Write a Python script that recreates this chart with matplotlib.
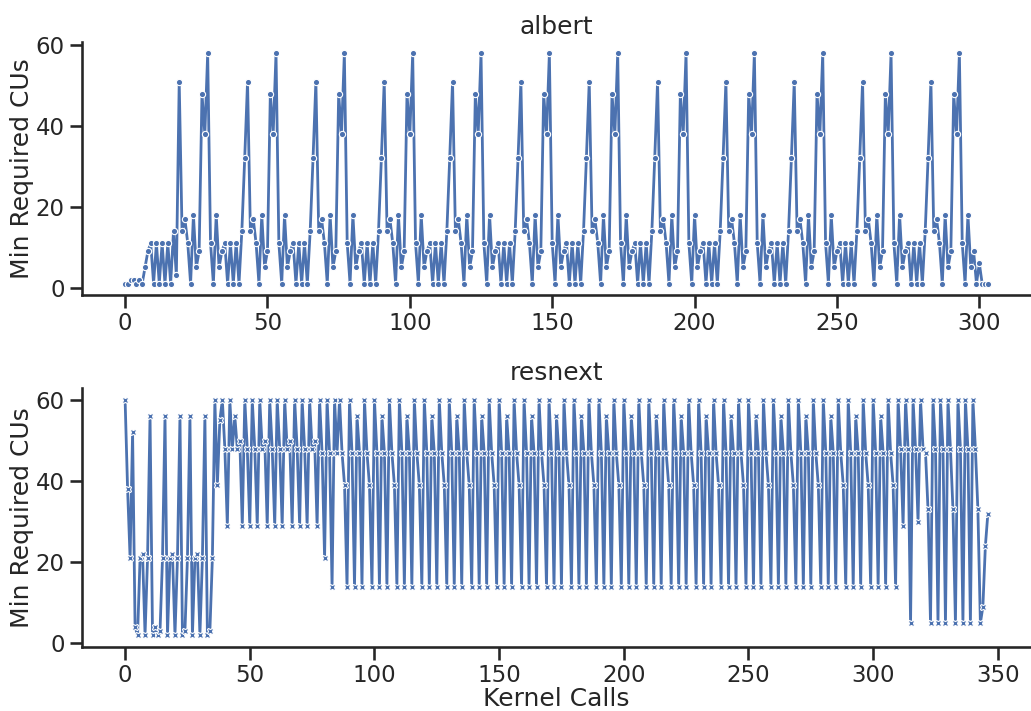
import numpy as np
import matplotlib
matplotlib.use("Agg")
import matplotlib.pyplot as plt
import seaborn as sns


# min CUs needed per kernel call, one row per repeating layer block
albert_cus = [
    1, 1, 2, 2, 1, 2, 1, 5, 9, 11, 1, 11, 1, 11, 1, 11, 1, 14, 3,
    51, 14, 17, 11, 1, 18, 5, 9, 48, 38, 58, 11, 1, 18, 5, 9, 11, 1, 11, 1, 11, 1, 14, 32,
    51, 14, 17, 11, 1, 18, 5, 9, 48, 38, 58, 11, 1, 18, 5, 9, 11, 1, 11, 1, 11, 1, 14, 32,
    51, 14, 17, 11, 1, 18, 5, 9, 48, 38, 58, 11, 1, 18, 5, 9, 11, 1, 11, 1, 11, 1, 14, 32,
    51, 14, 17, 11, 1, 18, 5, 9, 48, 38, 58, 11, 1, 18, 5, 9, 11, 1, 11, 1, 11, 1, 14, 32,
    51, 14, 17, 11, 1, 18, 5, 9, 48, 38, 58, 11, 1, 18, 5, 9, 11, 1, 11, 1, 11, 1, 14, 32,
    51, 14, 17, 11, 1, 18, 5, 9, 48, 38, 58, 11, 1, 18, 5, 9, 11, 1, 11, 1, 11, 1, 14, 32,
    51, 14, 17, 11, 1, 18, 5, 9, 48, 38, 58, 11, 1, 18, 5, 9, 11, 1, 11, 1, 11, 1, 14, 32,
    51, 14, 17, 11, 1, 18, 5, 9, 48, 38, 58, 11, 1, 18, 5, 9, 11, 1, 11, 1, 11, 1, 14, 32,
    51, 14, 17, 11, 1, 18, 5, 9, 48, 38, 58, 11, 1, 18, 5, 9, 11, 1, 11, 1, 11, 1, 14, 32,
    51, 14, 17, 11, 1, 18, 5, 9, 48, 38, 58, 11, 1, 18, 5, 9, 11, 1, 11, 1, 11, 1, 14, 32,
    51, 14, 17, 11, 1, 18, 5, 9, 48, 38, 58, 11, 1, 18, 5, 9, 11, 1, 11, 1, 11, 1, 14, 32,
    51, 14, 17, 11, 1, 18, 5, 9, 48, 38, 58, 11, 1, 18, 5, 9, 1, 6, 1, 1, 1,
]

resnext_cus = [
    60, 38, 21, 52, 4, 2, 21, 22, 2, 21,
    56, 2, 4, 2, 3, 21, 56, 2, 21, 22,
    2, 21, 56, 2, 3, 21, 56, 2, 21, 22,
    2, 21, 56, 2, 3, 21, 60, 39, 55, 60,
    48, 29, 60, 48, 56, 48, 50, 29, 60, 48,
    29, 60, 48, 29, 60, 48, 50, 29, 60, 48,
    29, 60, 48, 29, 60, 48, 50, 29, 60, 48,
    29, 60, 48, 29, 60, 48, 50, 29, 60, 47,
    21, 60, 47, 14, 60, 47, 60, 47, 39, 14,
    60, 47, 14, 56, 47, 14, 60, 47, 39, 14,
    60, 47, 14, 56, 47, 14, 60, 47, 39, 14,
    60, 47, 14, 56, 47, 14, 60, 47, 39, 14,
    60, 47, 14, 56, 47, 14, 60, 47, 39, 14,
    60, 47, 14, 56, 47, 14, 60, 47, 39, 14,
    60, 47, 14, 56, 47, 14, 60, 47, 39, 14,
    60, 47, 14, 56, 47, 14, 60, 47, 39, 14,
    60, 47, 14, 56, 47, 14, 60, 47, 39, 14,
    60, 47, 14, 56, 47, 14, 60, 47, 39, 14,
    60, 47, 14, 56, 47, 14, 60, 47, 39, 14,
    60, 47, 14, 56, 47, 14, 60, 47, 39, 14,
    60, 47, 14, 56, 47, 14, 60, 47, 39, 14,
    60, 47, 14, 56, 47, 14, 60, 47, 39, 14,
    60, 47, 14, 56, 47, 14, 60, 47, 39, 14,
    60, 47, 14, 56, 47, 14, 60, 47, 39, 14,
    60, 47, 14, 56, 47, 14, 60, 47, 39, 14,
    60, 47, 14, 56, 47, 14, 60, 47, 39, 14,
    60, 47, 14, 56, 47, 14, 60, 47, 39, 14,
    60, 47, 14, 56, 47, 14, 60, 47, 39, 14,
    60, 47, 14, 56, 47, 14, 60, 47, 39, 14,
    60, 47, 14, 56, 47, 14, 60, 47, 39, 14,
    60, 47, 14, 56, 47, 14, 60, 47, 39, 14,
    60, 48, 29, 60, 48, 5, 60, 48, 30, 60,
    48, 47, 33, 5, 60, 48, 5, 60, 48, 5,
    60, 48, 33, 5, 60, 48, 5, 60, 48, 5,
    60, 48, 33, 5, 9, 24, 32,
]

models = ["albert", "resnext"]
markers = {"albert": "o", "resnext": "X"}
series = {"albert": albert_cus, "resnext": resnext_cus}

sns.set_theme(style="ticks", context="talk")
color = sns.color_palette("deep")[0]

fig = plt.figure(figsize=(10.31, 7.11), dpi=100)
ax_top = fig.add_axes([0.0795, 0.585, 0.9205, 0.356])
ax_bot = fig.add_axes([0.0795, 0.090, 0.9205, 0.364])

for ax, name in zip([ax_top, ax_bot], models):
    y = series[name]
    x = np.arange(len(y))
    ax.plot(x, y, color=color, lw=2.0, marker=markers[name], ms=4.5,
            mec="white", mew=0.8)
    ax.set_title(name)
    ax.set_ylabel("Min Required CUs", labelpad=1)
    ax.set_yticks([0, 20, 40, 60])
    sns.despine(ax=ax)

ax_top.set_xticks([0, 50, 100, 150, 200, 250, 300])
ax_bot.set_xticks([0, 50, 100, 150, 200, 250, 300, 350])
ax_bot.set_xlabel("Kernel Calls", labelpad=0)

fig.savefig("out.png", dpi=100)
